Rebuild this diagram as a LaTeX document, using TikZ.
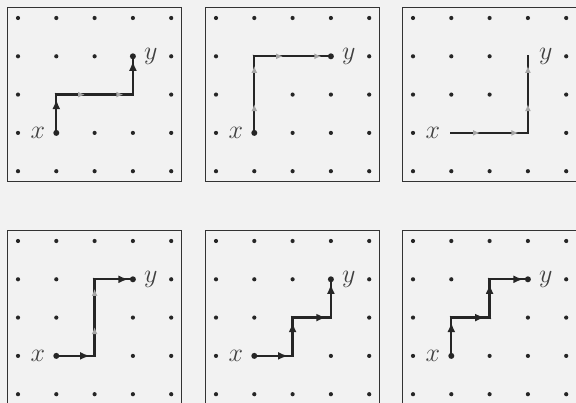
\documentclass[tikz,border=0pt]{standalone}
\usepackage{fix-cm}
\usetikzlibrary{arrows.meta,decorations.markings}
\begin{document}
\begin{tikzpicture}[x=1pt,y=-1pt,
  dotc/.style={fill=black!85},
  enddot/.style={fill=black!85},
  frame/.style={draw=black!80, line width=1.5pt},
  erase/.style={draw=black!5, line width=5.5pt, line cap=round, line join=round},
  boldstep/.style={draw=black!85, line width=2.3pt, line cap=rect, postaction={decorate},
    decoration={markings, mark=at position 0.88 with {\arrow[black!85]{Latex[length=10pt,width=8pt]}}}},
  faintstep/.style={draw=black!85, line width=2.3pt, line cap=rect, postaction={decorate},
    decoration={markings, mark=at position 0.75 with {\arrow[black!35]{Latex[length=7pt,width=6pt]}}}},
  lbl/.style={inner sep=0pt, font=\fontsize{26}{30}\selectfont, text=black!75}
]
\useasboundingbox (0,0) rectangle (576,403);
\fill[black!5] (0,0) rectangle (576,403);
\foreach \p/\ox/\oy in {1/18/18, 2/216/18, 3/413/18, 4/18/241, 5/216/241, 6/413/241} {
  \draw[frame] (\ox-10.5,\oy-10.5) rectangle ++(174,174);
  \foreach \i in {0,...,4} {
    \foreach \j in {0,...,4} {
      \coordinate (g\p-\i-\j) at (\ox+\i*38.3, \oy+\j*38.3);
      \fill[dotc] (g\p-\i-\j) circle (2.1pt);
    }
  }
  \node[lbl, anchor=east, xshift=-11pt] (x\p) at (g\p-1-3) {$x$};
  \node[lbl, anchor=west, xshift=11pt] (y\p) at (g\p-3-1) {$y$};
}
% clear the grid dots under the paths
\draw[erase] (g1-1-3) -- (g1-1-2) -- (g1-3-2) -- (g1-3-1);
\draw[erase] (g2-1-3) -- (g2-1-1) -- (g2-3-1);
\draw[erase] (g3-1-3) -- (g3-3-3) -- (g3-3-1);
\draw[erase] (g4-1-3) -- (g4-2-3) -- (g4-2-1) -- (g4-3-1);
\draw[erase] (g5-1-3) -- (g5-2-3) -- (g5-2-2) -- (g5-3-2) -- (g5-3-1);
\draw[erase] (g6-1-3) -- (g6-1-2) -- (g6-2-2) -- (g6-2-1) -- (g6-3-1);
% panel 1
\draw[boldstep] (g1-1-3) -- (g1-1-2);
\draw[faintstep] (g1-1-2) -- (g1-2-2);
\draw[faintstep] (g1-2-2) -- (g1-3-2);
\draw[boldstep] (g1-3-2) -- (g1-3-1);
\fill[enddot] (g1-1-3) circle (3pt) (g1-3-1) circle (3pt);
% panel 2
\draw[faintstep] (g2-1-3) -- (g2-1-2);
\draw[faintstep] (g2-1-2) -- (g2-1-1);
\draw[faintstep] (g2-1-1) -- (g2-2-1);
\draw[faintstep] (g2-2-1) -- (g2-3-1);
\fill[enddot] (g2-1-3) circle (3pt) (g2-3-1) circle (3pt);
% panel 3
\draw[faintstep] (g3-1-3) -- (g3-2-3);
\draw[faintstep] (g3-2-3) -- (g3-3-3);
\draw[faintstep] (g3-3-3) -- (g3-3-2);
\draw[faintstep] (g3-3-2) -- (g3-3-1);
% panel 4
\draw[boldstep] (g4-1-3) -- (g4-2-3);
\draw[faintstep] (g4-2-3) -- (g4-2-2);
\draw[faintstep] (g4-2-2) -- (g4-2-1);
\draw[boldstep] (g4-2-1) -- (g4-3-1);
\fill[enddot] (g4-1-3) circle (3pt) (g4-3-1) circle (3pt);
% panel 5
\draw[boldstep] (g5-1-3) -- (g5-2-3);
\draw[boldstep] (g5-2-3) -- (g5-2-2);
\draw[boldstep] (g5-2-2) -- (g5-3-2);
\draw[boldstep] (g5-3-2) -- (g5-3-1);
\fill[enddot] (g5-1-3) circle (3pt) (g5-3-1) circle (3pt);
% panel 6
\draw[boldstep] (g6-1-3) -- (g6-1-2);
\draw[boldstep] (g6-1-2) -- (g6-2-2);
\draw[boldstep] (g6-2-2) -- (g6-2-1);
\draw[boldstep] (g6-2-1) -- (g6-3-1);
\fill[enddot] (g6-1-3) circle (3pt) (g6-3-1) circle (3pt);
\end{tikzpicture}
\end{document}
